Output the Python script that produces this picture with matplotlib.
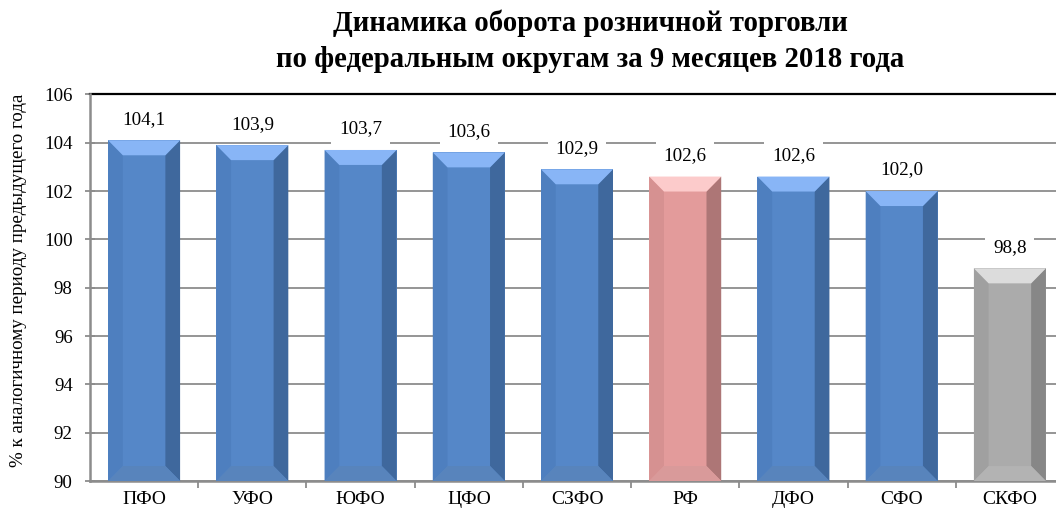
import matplotlib.pyplot as plt
from matplotlib.patches import Polygon

plt.rcParams['font.family'] = ['Liberation Serif', 'DejaVu Serif']

# data
districts = ['ПФО', 'УФО', 'ЮФО', 'ЦФО', 'СЗФО', 'РФ', 'ДФО', 'СФО', 'СКФО']
values = [104.1, 103.9, 103.7, 103.6, 102.9, 102.6, 102.6, 102.0, 98.8]
labels = ['104,1', '103,9', '103,7', '103,6', '102,9', '102,6', '102,6', '102,0', '98,8']
kinds = ['d', 'd', 'd', 'd', 'd', 'rf', 'd', 'd', 'sk']

# face colours: front, left, right, top, bottom
palette = {
    'd':  ('#5587c8', '#4e7fbf', '#3f689d', '#88b5f6', '#5884bc'),
    'rf': ('#e39b9b', '#d69191', '#ad7676', '#fccbcb', '#d99a9a'),
    'sk': ('#ababab', '#a0a0a0', '#878787', '#dcdcdc', '#b3b3b3'),
}

ymin, ymax = 90, 106
width = 0.665
bx = 0.136   # bevel, x data units
by = 0.62    # bevel, y data units

fig = plt.figure(figsize=(10.56, 5.13), dpi=100)
ax = fig.add_axes([90 / 1056, 1 - 481 / 513, 974 / 1056, (481 - 94.4) / 513])

ax.set_xlim(-0.5, len(districts) - 0.5)
ax.set_ylim(ymin, ymax)
ax.set_yticks(range(90, 107, 2))
ax.grid(axis='y', color='#8c8c8c', linewidth=1.3, zorder=0)
ax.set_axisbelow(True)
ax.axhline(ymax, color='black', linewidth=1.6, zorder=1, clip_on=False)

px = 72 / 100  # points per pixel
for i, (v, k) in enumerate(zip(values, kinds)):
    front, left, right, top, bottom = palette[k]
    x0, x1 = i - width / 2, i + width / 2
    b0 = ymin
    faces = [
        ([(x0, b0), (x1, b0), (x1, v), (x0, v)], front),
        ([(x0, v), (x0 + bx, v - by), (x0 + bx, b0 + by), (x0, b0)], left),
        ([(x1, v), (x1 - bx, v - by), (x1 - bx, b0 + by), (x1, b0)], right),
        ([(x0, v), (x1, v), (x1 - bx, v - by), (x0 + bx, v - by)], top),
        ([(x0, b0), (x1, b0), (x1 - bx, b0 + by), (x0 + bx, b0 + by)], bottom),
    ]
    for pts, c in faces:
        ax.add_patch(Polygon(pts, closed=True, facecolor=c, edgecolor='none', zorder=3))
    ax.annotate(labels[i], (i, v), xytext=(0, 21 * px), textcoords='offset points',
                ha='center', va='center', fontsize=13.8, zorder=5,
                bbox=dict(boxstyle='square,pad=0.4', facecolor='white', edgecolor='none'))

ax.set_xticks([i + 0.5 for i in range(len(districts) - 1)])
ax.set_xticklabels([])
ax.set_xticks(range(len(districts)), minor=True)
ax.set_xticklabels(districts, minor=True, fontsize=14)
ax.tick_params(axis='x', which='minor', length=0, pad=7)
ax.tick_params(axis='x', which='major', length=5, width=1.3, color='#8c8c8c')
ax.tick_params(axis='y', direction='inout', length=7, width=1.3, color='#8c8c8c',
               labelsize=13.6, pad=9)

for s in ['top', 'right']:
    ax.spines[s].set_visible(False)
for s in ['left', 'bottom']:
    ax.spines[s].set_color('#8c8c8c')
    ax.spines[s].set_linewidth(1.8)

fig.text(19 / 1056, 1 - 280 / 513, '% к аналогичному периоду предыдущего года',
         rotation=90, ha='center', va='center', fontsize=13.7)

fig.text(590 / 1056, 1 - 41 / 513,
         'Динамика оборота розничной торговли\nпо федеральным округам за 9 месяцев 2018 года',
         ha='center', va='center', fontsize=20.7, fontweight='bold', linespacing=1.45)

fig.savefig('out.png', dpi=100)
